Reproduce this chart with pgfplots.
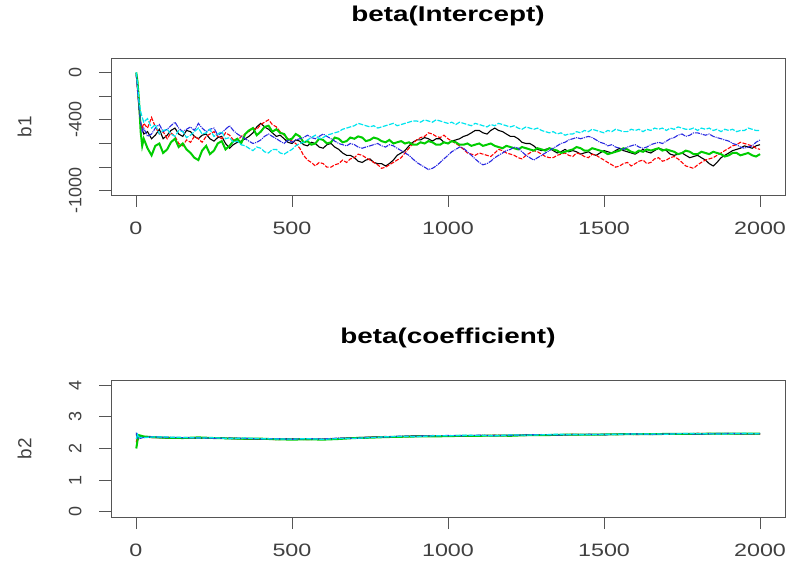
\documentclass[border=0pt]{standalone}
\usepackage{fontspec}
\setmainfont[FakeStretch=1.3]{Liberation Sans}
\newfontfamily\plainsans{Liberation Sans}
\usepackage{pgfplots}
\pgfplotsset{compat=1.18}
\definecolor{rgreen}{HTML}{00CD00}
\definecolor{rcyan}{HTML}{00E5EE}
\definecolor{rblue}{HTML}{2A2AE0}
\definecolor{frame}{HTML}{555555}
\pgfplotsset{
  traceaxis/.style={
    scale only axis, width=674bp, height=137bp,
    xmin=-80, xmax=2080,
    axis line style={frame, line width=0.9bp},
    tick style={frame, line width=0.9bp},
    tick align=outside, major tick length=12bp,
    xtick pos=bottom, ytick pos=left,
    xtick={0,500,1000,1500,2000},
    xticklabels={0,500,1000,1500,2000},
    xticklabel style={font=\fontsize{18}{20}\selectfont, text=black!75, anchor=north, yshift=-11bp},
    yticklabel style={font=\plainsans\fontsize{18}{20}\selectfont, text=black!75, xshift=-14bp, rotate=90, anchor=south},
    title style={font=\bfseries\fontsize{21.5}{23}\selectfont, at={(0.5,1)}, anchor=center, yshift=36bp},
    ylabel style={font=\plainsans\fontsize{19}{21}\selectfont, text=black!75, at={(axis description cs:-0.128,0.5)}, anchor=center},
    clip=true,
  },
  cb/.style={black, line width=1.1bp},
  cr/.style={red, line width=1.1bp, dash pattern=on 4bp off 1.5bp},
  cg/.style={rgreen, line width=2bp},
  cu/.style={rblue, line width=1.1bp, dash pattern=on 5bp off 1bp on 1bp off 1bp},
  cc/.style={rcyan, line width=1.2bp, dash pattern=on 5bp off 1.5bp},
}
\begin{document}
\begin{tikzpicture}
\begin{axis}[traceaxis, at={(111bp,370bp)}, anchor=south west,
  ymin=-1035, ymax=122,
  ytick={-1000,-800,-600,-400,-200,0},
  yticklabels={-1000,,,-400,,0},
  title={beta(Intercept)}, ylabel={b1}]
\addplot[cb] coordinates {(1,-20)(5,-120)(10,-300)(15,-420)(20,-480)(25,-520)(37,-500)(50,-560)(62,-530)(75,-480)(87,-560)(100,-530)(112,-490)(125,-470)(137,-520)(150,-540)(162,-490)(175,-500)(187,-540)(200,-560)(212,-530)(225,-520)(237,-560)(250,-580)(262,-550)(275,-540)(287,-600)(300,-640)(312,-610)(325,-590)(337,-580)(350,-560)(362,-540)(375,-510)(387,-460)(400,-430)(412,-460)(425,-480)(437,-510)(450,-540)(462,-530)(475,-560)(487,-590)(500,-600)(512,-570)(525,-580)(537,-610)(550,-620)(562,-590)(575,-600)(587,-630)(600,-640)(612,-610)(625,-600)(637,-630)(650,-650)(662,-680)(675,-700)(687,-700)(700,-720)(712,-750)(725,-760)(737,-740)(750,-730)(762,-760)(775,-770)(787,-770)(800,-790)(812,-770)(825,-740)(837,-700)(850,-680)(862,-660)(875,-620)(887,-590)(900,-570)(912,-570)(925,-550)(937,-560)(950,-580)(962,-560)(975,-560)(987,-590)(1000,-600)(1012,-580)(1025,-570)(1037,-560)(1050,-540)(1062,-530)(1075,-510)(1087,-490)(1100,-490)(1112,-510)(1125,-520)(1137,-490)(1150,-470)(1162,-490)(1175,-500)(1187,-520)(1200,-540)(1212,-540)(1225,-560)(1237,-590)(1250,-600)(1262,-600)(1275,-620)(1287,-650)(1300,-660)(1312,-650)(1325,-640)(1337,-660)(1350,-680)(1362,-670)(1375,-650)(1387,-670)(1400,-660)(1412,-670)(1425,-690)(1437,-680)(1450,-670)(1462,-690)(1475,-700)(1487,-680)(1500,-660)(1512,-670)(1525,-680)(1537,-660)(1550,-640)(1562,-660)(1575,-670)(1587,-680)(1600,-690)(1612,-670)(1625,-650)(1637,-670)(1650,-680)(1662,-660)(1675,-640)(1687,-650)(1700,-660)(1712,-690)(1725,-700)(1737,-690)(1750,-680)(1762,-700)(1775,-720)(1787,-710)(1800,-700)(1812,-720)(1825,-740)(1837,-770)(1850,-790)(1862,-760)(1875,-720)(1887,-700)(1900,-680)(1912,-660)(1925,-650)(1937,-640)(1950,-620)(1962,-630)(1975,-640)(1987,-620)(2000,-610)};
\addplot[cr] coordinates {(1,-10)(5,-150)(10,-320)(15,-430)(20,-470)(25,-430)(37,-470)(50,-380)(62,-460)(75,-520)(87,-500)(100,-560)(112,-510)(125,-540)(137,-600)(150,-620)(162,-570)(175,-590)(187,-540)(200,-560)(212,-590)(225,-540)(237,-520)(250,-500)(262,-540)(275,-560)(287,-510)(300,-530)(312,-570)(325,-580)(337,-540)(350,-520)(362,-500)(375,-470)(387,-480)(400,-440)(412,-420)(425,-400)(437,-440)(450,-460)(462,-500)(475,-530)(487,-560)(500,-580)(512,-600)(525,-640)(537,-700)(550,-740)(562,-760)(575,-790)(587,-760)(600,-770)(612,-800)(625,-800)(637,-780)(650,-770)(662,-740)(675,-760)(687,-730)(700,-720)(712,-690)(725,-700)(737,-720)(750,-740)(762,-760)(775,-780)(787,-810)(800,-800)(812,-780)(825,-760)(837,-740)(850,-720)(862,-680)(875,-640)(887,-600)(900,-570)(912,-550)(925,-540)(937,-510)(950,-520)(962,-540)(975,-550)(987,-530)(1000,-560)(1012,-580)(1025,-600)(1037,-620)(1050,-650)(1062,-680)(1075,-690)(1087,-700)(1100,-680)(1112,-690)(1125,-700)(1137,-710)(1150,-680)(1162,-650)(1175,-660)(1187,-680)(1200,-690)(1212,-700)(1225,-720)(1237,-730)(1250,-700)(1262,-680)(1275,-660)(1287,-670)(1300,-690)(1312,-710)(1325,-720)(1337,-720)(1350,-700)(1362,-690)(1375,-680)(1387,-700)(1400,-710)(1412,-680)(1425,-690)(1437,-710)(1450,-720)(1462,-690)(1475,-700)(1487,-720)(1500,-740)(1512,-760)(1525,-780)(1537,-800)(1550,-790)(1562,-770)(1575,-760)(1587,-790)(1600,-770)(1612,-750)(1625,-740)(1637,-770)(1650,-760)(1662,-730)(1675,-720)(1687,-750)(1700,-740)(1712,-720)(1725,-710)(1737,-730)(1750,-760)(1762,-790)(1775,-800)(1787,-810)(1800,-780)(1812,-760)(1825,-740)(1837,-730)(1850,-720)(1862,-700)(1875,-680)(1887,-660)(1900,-640)(1912,-620)(1925,-610)(1937,-590)(1950,-600)(1962,-610)(1975,-620)(1987,-640)(2000,-650)};
\addplot[cg] coordinates {(1,0)(5,-80)(10,-250)(15,-500)(20,-620)(25,-560)(37,-640)(50,-700)(62,-620)(75,-600)(87,-680)(100,-650)(112,-590)(125,-560)(137,-630)(150,-600)(162,-650)(175,-680)(187,-720)(200,-740)(212,-660)(225,-620)(237,-690)(250,-660)(262,-600)(275,-580)(287,-650)(300,-620)(312,-580)(325,-560)(337,-600)(350,-520)(362,-490)(375,-470)(387,-530)(400,-500)(412,-460)(425,-450)(437,-500)(450,-480)(462,-510)(475,-520)(487,-570)(500,-560)(512,-520)(525,-540)(537,-590)(550,-580)(562,-610)(575,-600)(587,-560)(600,-570)(612,-600)(625,-590)(637,-550)(650,-560)(662,-590)(675,-580)(687,-550)(700,-560)(712,-540)(725,-550)(737,-580)(750,-570)(762,-550)(775,-560)(787,-580)(800,-590)(812,-570)(825,-600)(837,-590)(850,-580)(862,-600)(875,-590)(887,-610)(900,-610)(912,-590)(925,-600)(937,-580)(950,-590)(962,-610)(975,-610)(987,-590)(1000,-600)(1012,-580)(1025,-590)(1037,-610)(1050,-610)(1062,-600)(1075,-620)(1087,-610)(1100,-600)(1112,-620)(1125,-610)(1137,-600)(1150,-620)(1162,-630)(1175,-640)(1187,-620)(1200,-630)(1212,-640)(1225,-650)(1237,-630)(1250,-640)(1262,-650)(1275,-660)(1287,-640)(1300,-650)(1312,-660)(1325,-640)(1337,-650)(1350,-660)(1362,-680)(1375,-670)(1387,-660)(1400,-650)(1412,-630)(1425,-640)(1437,-660)(1450,-660)(1462,-640)(1475,-650)(1487,-660)(1500,-670)(1512,-690)(1525,-680)(1537,-670)(1550,-660)(1562,-640)(1575,-650)(1587,-670)(1600,-680)(1612,-660)(1625,-670)(1637,-650)(1650,-660)(1662,-650)(1675,-640)(1687,-660)(1700,-650)(1712,-660)(1725,-670)(1737,-690)(1750,-680)(1762,-660)(1775,-670)(1787,-690)(1800,-690)(1812,-670)(1825,-680)(1837,-690)(1850,-670)(1862,-680)(1875,-690)(1887,-710)(1900,-700)(1912,-680)(1925,-680)(1937,-700)(1950,-690)(1962,-680)(1975,-700)(1987,-710)(2000,-690)};
\addplot[cu] coordinates {(1,-10)(5,-150)(10,-300)(15,-420)(20,-500)(25,-470)(37,-540)(50,-520)(62,-470)(75,-440)(87,-500)(100,-480)(112,-450)(125,-420)(137,-470)(150,-500)(162,-480)(175,-460)(187,-490)(200,-430)(212,-470)(225,-500)(237,-480)(250,-470)(262,-530)(275,-510)(287,-480)(300,-450)(312,-490)(325,-520)(337,-540)(350,-560)(362,-580)(375,-600)(387,-590)(400,-570)(412,-540)(425,-520)(437,-540)(450,-560)(462,-580)(475,-600)(487,-570)(500,-590)(512,-570)(525,-560)(537,-550)(550,-530)(562,-550)(575,-560)(587,-540)(600,-520)(612,-540)(625,-560)(637,-580)(650,-600)(662,-610)(675,-620)(687,-600)(700,-610)(712,-630)(725,-640)(737,-630)(750,-620)(762,-610)(775,-600)(787,-620)(800,-630)(812,-610)(825,-620)(837,-640)(850,-660)(862,-680)(875,-700)(887,-730)(900,-760)(912,-780)(925,-800)(937,-820)(950,-810)(962,-790)(975,-760)(987,-730)(1000,-700)(1012,-670)(1025,-650)(1037,-630)(1050,-640)(1062,-670)(1075,-700)(1087,-730)(1100,-760)(1112,-780)(1125,-770)(1137,-750)(1150,-720)(1162,-700)(1175,-680)(1187,-660)(1200,-650)(1212,-630)(1225,-640)(1237,-670)(1250,-700)(1262,-720)(1275,-740)(1287,-720)(1300,-700)(1312,-680)(1325,-660)(1337,-640)(1350,-620)(1362,-600)(1375,-590)(1387,-570)(1400,-560)(1412,-550)(1425,-560)(1437,-550)(1450,-540)(1462,-550)(1475,-570)(1487,-590)(1500,-600)(1512,-620)(1525,-610)(1537,-630)(1550,-640)(1562,-650)(1575,-630)(1587,-620)(1600,-610)(1612,-630)(1625,-640)(1637,-630)(1650,-610)(1662,-600)(1675,-590)(1687,-600)(1700,-580)(1712,-560)(1725,-550)(1737,-530)(1750,-520)(1762,-540)(1775,-530)(1787,-510)(1800,-510)(1812,-520)(1825,-530)(1837,-520)(1850,-540)(1862,-550)(1875,-560)(1887,-570)(1900,-580)(1912,-600)(1925,-610)(1937,-630)(1950,-640)(1962,-630)(1975,-620)(1987,-590)(2000,-570)};
\addplot[cc] coordinates {(1,0)(5,-100)(10,-250)(15,-330)(20,-380)(25,-420)(37,-390)(50,-470)(62,-440)(75,-520)(87,-490)(100,-480)(112,-520)(125,-540)(137,-490)(150,-500)(162,-550)(175,-530)(187,-500)(200,-470)(212,-520)(225,-510)(237,-480)(250,-540)(262,-520)(275,-500)(287,-560)(300,-550)(312,-590)(325,-580)(337,-610)(350,-620)(362,-640)(375,-660)(387,-630)(400,-640)(412,-670)(425,-680)(437,-650)(450,-650)(462,-680)(475,-690)(487,-670)(500,-650)(512,-620)(525,-600)(537,-590)(550,-570)(562,-550)(575,-530)(587,-560)(600,-550)(612,-530)(625,-520)(637,-510)(650,-500)(662,-480)(675,-470)(687,-460)(700,-450)(712,-430)(725,-440)(737,-450)(750,-460)(762,-450)(775,-470)(787,-460)(800,-450)(812,-440)(825,-430)(837,-450)(850,-440)(862,-430)(875,-420)(887,-410)(900,-410)(912,-420)(925,-400)(937,-410)(950,-420)(962,-400)(975,-410)(987,-420)(1000,-430)(1012,-420)(1025,-440)(1037,-420)(1050,-430)(1062,-440)(1075,-450)(1087,-430)(1100,-440)(1112,-450)(1125,-460)(1137,-440)(1150,-450)(1162,-430)(1175,-440)(1187,-450)(1200,-460)(1212,-450)(1225,-470)(1237,-480)(1250,-460)(1262,-470)(1275,-480)(1287,-470)(1300,-490)(1312,-500)(1325,-510)(1337,-500)(1350,-520)(1362,-510)(1375,-530)(1387,-520)(1400,-520)(1412,-500)(1425,-510)(1437,-490)(1450,-500)(1462,-480)(1475,-490)(1487,-500)(1500,-510)(1512,-490)(1525,-500)(1537,-480)(1550,-490)(1562,-500)(1575,-500)(1587,-480)(1600,-490)(1612,-480)(1625,-500)(1637,-480)(1650,-490)(1662,-470)(1675,-480)(1687,-470)(1700,-490)(1712,-470)(1725,-480)(1737,-460)(1750,-470)(1762,-480)(1775,-480)(1787,-470)(1800,-490)(1812,-470)(1825,-480)(1837,-470)(1850,-490)(1862,-480)(1875,-500)(1887,-480)(1900,-490)(1912,-480)(1925,-500)(1937,-490)(1950,-490)(1962,-470)(1975,-480)(1987,-490)(2000,-490)};
\end{axis}
\begin{axis}[traceaxis, at={(111bp,48bp)}, anchor=south west,
  ymin=-0.16, ymax=4.16,
  ytick={0,1,2,3,4}, yticklabels={0,1,2,3,4},
  title={beta(coefficient)}, ylabel={b2}]
\addplot[cb] coordinates {(1,2.45)(5,2.30)(10,2.38)(25,2.36)(50,2.35)(100,2.33)(150,2.34)(200,2.32)(250,2.33)(300,2.31)(350,2.30)(400,2.29)(450,2.30)(500,2.31)(550,2.30)(600,2.29)(650,2.32)(700,2.34)(750,2.36)(800,2.37)(850,2.38)(900,2.40)(950,2.39)(1000,2.40)(1050,2.39)(1100,2.41)(1150,2.40)(1200,2.42)(1250,2.41)(1300,2.43)(1350,2.44)(1400,2.43)(1450,2.44)(1500,2.45)(1550,2.44)(1600,2.45)(1650,2.46)(1700,2.45)(1750,2.46)(1800,2.47)(1850,2.46)(1900,2.47)(1950,2.46)(2000,2.46)};
\addplot[cr] coordinates {(1,2.2)(5,2.4)(10,2.33)(25,2.37)(50,2.34)(100,2.35)(150,2.33)(200,2.33)(250,2.32)(300,2.32)(350,2.31)(400,2.30)(450,2.28)(500,2.30)(550,2.28)(600,2.30)(650,2.31)(700,2.33)(750,2.35)(800,2.38)(850,2.36)(900,2.38)(950,2.41)(1000,2.39)(1050,2.41)(1100,2.40)(1150,2.42)(1200,2.41)(1250,2.44)(1300,2.42)(1350,2.43)(1400,2.45)(1450,2.43)(1500,2.44)(1550,2.46)(1600,2.44)(1650,2.45)(1700,2.47)(1750,2.45)(1800,2.48)(1850,2.47)(1900,2.46)(1950,2.47)(2000,2.45)};
\addplot[cg] coordinates {(1,2.0)(5,2.25)(10,2.42)(25,2.38)(50,2.36)(100,2.34)(150,2.33)(200,2.35)(250,2.33)(300,2.32)(350,2.31)(400,2.31)(450,2.29)(500,2.28)(550,2.29)(600,2.28)(650,2.30)(700,2.33)(750,2.34)(800,2.36)(850,2.37)(900,2.38)(950,2.38)(1000,2.39)(1050,2.40)(1100,2.40)(1150,2.41)(1200,2.40)(1250,2.42)(1300,2.42)(1350,2.43)(1400,2.44)(1450,2.44)(1500,2.44)(1550,2.45)(1600,2.45)(1650,2.45)(1700,2.46)(1750,2.46)(1800,2.46)(1850,2.47)(1900,2.47)(1950,2.47)(2000,2.47)};
\addplot[cu] coordinates {(1,2.5)(5,2.35)(10,2.31)(25,2.35)(50,2.37)(100,2.35)(150,2.34)(200,2.34)(250,2.32)(300,2.33)(350,2.32)(400,2.30)(450,2.31)(500,2.29)(550,2.31)(600,2.30)(650,2.33)(700,2.32)(750,2.35)(800,2.36)(850,2.39)(900,2.39)(950,2.40)(1000,2.41)(1050,2.40)(1100,2.42)(1150,2.41)(1200,2.41)(1250,2.43)(1300,2.44)(1350,2.42)(1400,2.44)(1450,2.45)(1500,2.43)(1550,2.45)(1600,2.46)(1650,2.44)(1700,2.46)(1750,2.47)(1800,2.45)(1850,2.47)(1900,2.48)(1950,2.46)(2000,2.47)};
\addplot[cc] coordinates {(1,2.3)(5,2.45)(10,2.36)(25,2.34)(50,2.36)(100,2.36)(150,2.35)(200,2.33)(250,2.34)(300,2.31)(350,2.33)(400,2.31)(450,2.30)(500,2.30)(550,2.31)(600,2.29)(650,2.31)(700,2.32)(750,2.34)(800,2.37)(850,2.38)(900,2.37)(950,2.40)(1000,2.40)(1050,2.42)(1100,2.41)(1150,2.40)(1200,2.43)(1250,2.42)(1300,2.43)(1350,2.45)(1400,2.44)(1450,2.43)(1500,2.45)(1550,2.45)(1600,2.46)(1650,2.46)(1700,2.45)(1750,2.47)(1800,2.47)(1850,2.46)(1900,2.46)(1950,2.48)(2000,2.46)};
\end{axis}
\pgfresetboundingbox
\path (0,0) rectangle (790bp,565bp);
\end{tikzpicture}
\end{document}
